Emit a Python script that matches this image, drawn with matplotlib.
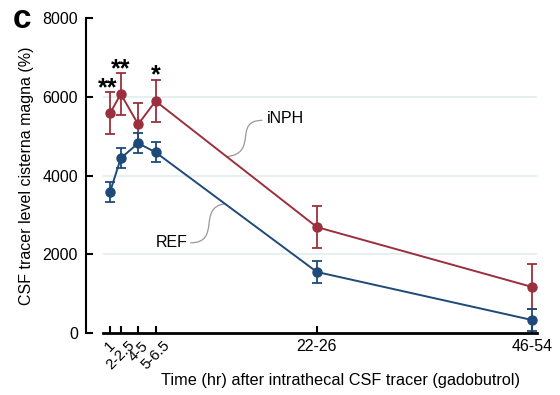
import matplotlib
matplotlib.use("Agg")
import matplotlib.pyplot as plt
from matplotlib.path import Path
from matplotlib.patches import PathPatch

plt.rcParams['font.family'] = ['Liberation Sans', 'DejaVu Sans']

# Data
time_labels = ["1", "2-2.5", "4-5", "5-6.5", "22-26", "46-54"]
time_pos = [1, 2.3, 4.4, 6.5, 26, 52]
inph_mean = [5580, 6070, 5300, 5890, 2690, 1170]
inph_err = [530, 530, 530, 540, 540, 570]
ref_mean = [3580, 4440, 4820, 4590, 1550, 330]
ref_err = [260, 250, 250, 250, 270, 270]
stars = ["**", "**", "", "*", "", ""]

red = "#9c2f3d"
blue = "#1d4a78"

fig = plt.figure(figsize=(5.6, 3.95), dpi=100)
ax = fig.add_axes([103/560, (395-333)/395, (537-103)/560, (333-18)/395])

for y in [2000, 4000, 6000]:
    ax.axhline(y, color="#e3eeee", lw=1.2, zorder=0)

ax.errorbar(time_pos, inph_mean, yerr=inph_err, color=red, marker='o', ms=6.5,
            lw=1.4, elinewidth=1.3, capsize=3.5, capthick=1.3, zorder=3)
ax.errorbar(time_pos, ref_mean, yerr=ref_err, color=blue, marker='o', ms=6.5,
            lw=1.4, elinewidth=1.3, capsize=3.5, capthick=1.3, zorder=4)

for x, m, e, s in zip(time_pos, inph_mean, inph_err, stars):
    if s:
        off = -0.3 if x == 1 else 0
        ax.text(x + off, m + e - 200, s, ha='center', va='bottom', fontsize=18,
                fontweight='bold')

ax.set_xlim(0.15, 52.6)
ax.set_ylim(0, 8000)
ax.set_yticks([0, 2000, 4000, 6000, 8000])
ax.set_yticklabels(["0", "2000", "4000", "6000", "8000"])
ax.set_xticks(time_pos)
ax.set_xticklabels(time_labels)
ax.tick_params(axis='both', direction='in', length=5, width=1.5, labelsize=11.5)
ax.tick_params(axis='x', pad=4)
ax.tick_params(axis='y', pad=6)
for i, lab in enumerate(ax.get_xticklabels()):
    if i < 4:
        lab.set_rotation(45)
        lab.set_ha('center')
        lab.set_va('top')
        lab.set_fontsize(10.8)

for sp in ['top', 'right']:
    ax.spines[sp].set_visible(False)
ax.spines['left'].set_position(('outward', 12))
ax.spines['left'].set_linewidth(1.5)
ax.spines['bottom'].set_linewidth(2.0)

ax.set_ylabel("CSF tracer level cisterna magna (%)", fontsize=11.5, labelpad=6)
fig.text(341/560, 1 - 380/395, "Time (hr) after intrathecal CSF tracer (gadobutrol)",
         fontsize=11.7, ha='center', va='center')

# Labels with curved connectors
ax.text(20.0, 5460, "iNPH", fontsize=11.5, ha='left', va='center')
verts = [(19.4, 5400), (15.8, 5400), (19.0, 4560), (15.1, 4480)]
ax.add_patch(PathPatch(Path(verts, [Path.MOVETO, Path.CURVE4, Path.CURVE4, Path.CURVE4]),
                       fc='none', ec='#999999', lw=0.9))
ax.text(8.4, 2290, "REF", fontsize=11.5, ha='center', va='center')
verts2 = [(10.7, 2290), (14.5, 2290), (11.5, 3200), (14.9, 3280)]
ax.add_patch(PathPatch(Path(verts2, [Path.MOVETO, Path.CURVE4, Path.CURVE4, Path.CURVE4]),
                       fc='none', ec='#999999', lw=0.9))

fig.text(22/560, 1 - 19/395, "c", fontsize=24, fontweight='bold', ha='center', va='center')

fig.savefig("out.png", dpi=100)
